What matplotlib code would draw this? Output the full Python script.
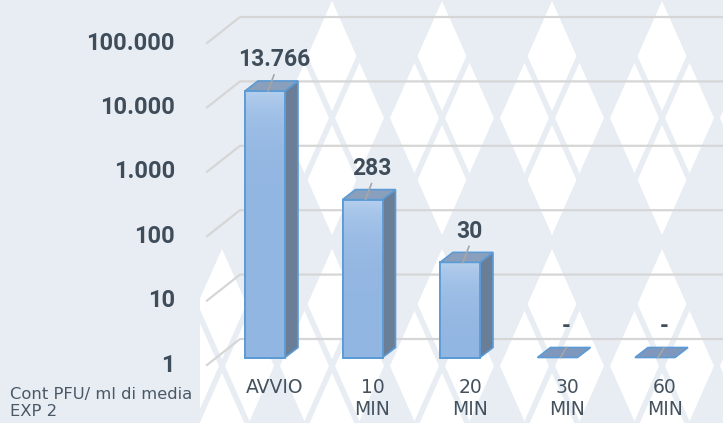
import numpy as np
import matplotlib.pyplot as plt
from matplotlib.patches import Polygon, Rectangle
from matplotlib.colors import LinearSegmentedColormap

categories = ['AVVIO', '10\nMIN', '20\nMIN', '30\nMIN', '60\nMIN']
values = [13766, 283, 30, 0, 0]
value_labels = ['13.766', '283', '30', '-', '-']
tick_values = [1, 10, 100, 1000, 10000, 100000]
tick_labels = ['1', '10', '100', '1.000', '10.000', '100.000']
note = 'Cont PFU/ ml di media\nEXP 2'

W, H = 723, 423
fig = plt.figure(figsize=(W / 100, H / 100), dpi=100)

# --- background argyle pattern (pixel coords) ---
bg = fig.add_axes([0, 0, 1, 1])
bg.set_xlim(0, W)
bg.set_ylim(H, 0)
bg.axis('off')
blue = '#e8edf4'
bg.add_patch(Rectangle((0, 0), W, H, color=blue, zorder=0))
hw, hh = 55, 124
for m in range(-1, 3):
    for k in range(-4, 3):
        cx = 552 + 2 * hw * k
        cy = 118 + 2 * hh * m
        if cx < 300 and cy < 300:
            continue
        bg.add_patch(Polygon([(cx - hw, cy), (cx, cy - hh), (cx + hw, cy), (cx, cy + hh)],
                             closed=True, color='white', lw=0, zorder=1))
# thin overcheck lines
slope = hh / hw
ys = np.array([-10, H + 10])
for k in range(-16, 16):
    x0 = 552 + hw * k
    for s in (1, -1):
        bg.plot(x0 + s * (ys - 118) / slope, ys, color=blue, lw=4, zorder=2,
                solid_capstyle='butt')
bg.add_patch(Rectangle((0, 0), 200, H, color=blue, lw=0, zorder=3))

# --- chart axes: x = category index, y = log value ---
ax = fig.add_axes([0, 0, 1, 1])
ax.patch.set_alpha(0)
ax.axis('off')
ax.set_yscale('log')
PX = 97.5       # px per category
DEC = 64.4      # px per decade
X0 = 265        # px of first bar centre
Y1 = 357.5      # px (from top) of value 1 on bar plane
ax.set_xlim(-X0 / PX, (W - X0) / PX)
ax.set_ylim(10 ** (-(H - Y1) / DEC), 10 ** (Y1 / DEC))


def sh(x, y, dx, dy):
    # shift a data point by dx px right and dy px up
    return x + dx / PX, y * 10 ** (dy / DEC)


grid_c = '#d6d6d6'
xl = (207 - X0) / PX
xb = (240 - X0) / PX
for t, lab in zip(tick_values, tick_labels):
    yf = t * 10 ** (-7.5 / DEC)
    yb = t * 10 ** (18.5 / DEC)
    ax.plot([xl, xb, ax.get_xlim()[1]], [yf, yb, yb], color=grid_c, lw=1.6, zorder=1)
    ax.text((175 - X0) / PX, yf, lab, ha='right', va='center', fontsize=17,
            fontfamily='Roboto', fontweight='bold', color='#3f4d5b')

bw = 40 / PX
dx, dy = 13, 10
edge = '#5b9bd5'
grad = np.linspace(0, 1, 100).reshape(-1, 1)
cmap = LinearSegmentedColormap.from_list('b', ['#92b6e2', '#b6d0ee'])
for i, (v, vl) in enumerate(zip(values, value_labels)):
    l, r = i - bw / 2, i + bw / 2
    top = v if v > 0 else 1
    if v > 0:
        rect = ax.bar(i, v - 1, bottom=1, width=bw, color='#a6c3e8', edgecolor=edge,
                      lw=1.3, zorder=4)[0]
        im = ax.imshow(grad, extent=[l, r, 1, v], origin='lower', cmap=cmap,
                       aspect='auto', zorder=4.5, interpolation='bilinear')
        im.set_clip_path(rect)
        ax.add_patch(Rectangle((l, 1), bw, v - 1, fill=False, edgecolor=edge, lw=1.3, zorder=5))
        side = [(r, 1), (r, v), sh(r, v, dx, dy), sh(r, 1, dx, dy)]
        ax.add_patch(Polygon(side, closed=True, facecolor='#6a7e98', edgecolor=edge,
                             lw=1.2, zorder=4))
        tp = [(l, v), (r, v), sh(r, v, dx, dy), sh(l, v, dx, dy)]
        ax.add_patch(Polygon(tp, closed=True, facecolor='#8a9fbb', edgecolor=edge,
                             lw=1.2, zorder=5))
    else:
        tp = [(l, 1), (r, 1), sh(r, 1, dx, dy), sh(l, 1, dx, dy)]
        ax.add_patch(Polygon(tp, closed=True, facecolor='#8097bd', edgecolor=edge,
                             lw=1.2, zorder=5))
    # leader line and value label
    p0 = sh(i, top, 3, 0)
    p1 = sh(i, top, 9, 16 if v > 0 else 10)
    ax.plot([p0[0], p1[0]], [p0[1], p1[1]], color='#a6a6a6', lw=1.2, zorder=6)
    lx, ly = sh(i, top, 9, 31)
    ax.text(lx, ly, vl, ha='center', va='center', fontsize=16.5, fontfamily='Roboto',
            fontweight='bold', color='#3f4d5b', zorder=7)
    # category label
    cx, cy = sh(i, 1, 10, -20)
    ax.text(cx, cy, categories[i], ha='center', va='top', fontsize=13.5,
            color='#44525f', linespacing=1.2)

fig.text(10 / W, 1 - 387 / H, note, ha='left', va='top', fontsize=11.8,
         color='#4a5866', linespacing=1.2)

fig.savefig('out.png', dpi=100)
